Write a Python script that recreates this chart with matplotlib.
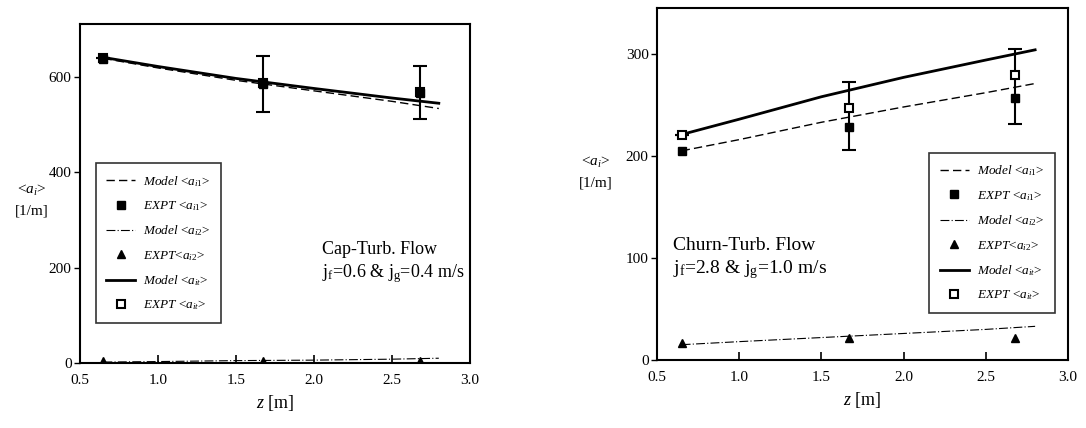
import numpy as np
import matplotlib
matplotlib.use("Agg")
import matplotlib.pyplot as plt
from matplotlib.lines import Line2D

plt.rcParams['font.family'] = ['Liberation Serif', 'DejaVu Serif']
plt.rcParams['mathtext.fontset'] = 'custom'
plt.rcParams['mathtext.rm'] = 'Liberation Serif'
plt.rcParams['mathtext.it'] = 'Liberation Serif:italic'

# measurement ports and model axis
z_expt = [0.65, 1.67, 2.68]
z_model = [0.65, 1.0, 1.5, 2.0, 2.5, 2.8]

# Cap-turbulent flow (jf=0.6, jg=0.4)
cap_model_ai1 = [638, 618, 592, 570, 548, 533]
cap_model_ai2 = [2, 3, 5, 6, 8, 10]
cap_model_ai = [640, 621, 596, 575, 555, 544]
cap_expt_ai1 = [637, 585, 565]
cap_expt_ai2 = [5, 5, 4]
cap_expt_ai = [638, 586, 567]
cap_err_lo = [0, 60, 57]
cap_err_hi = [0, 58, 55]

# Churn-turbulent flow (jf=2.8, jg=1.0)
churn_model_ai1 = [205, 216, 233, 248, 262, 271]
churn_model_ai2 = [15, 18, 22, 26, 30, 33]
churn_model_ai = [221, 236, 258, 277, 294, 304]
churn_expt_ai1 = [205, 228, 257]
churn_expt_ai2 = [17, 22, 22]
churn_expt_ai = [221, 247, 279]
churn_err_lo = [0, 41, 48]
churn_err_hi = [0, 25, 26]

xticks = [0.5, 1.0, 1.5, 2.0, 2.5, 3.0]
xticklabels = ['0.5', '1.0', '1.5', '2.0', '2.5', '3.0']

fig = plt.figure(figsize=(10.86, 4.28), dpi=100)
ax1 = fig.add_axes([80/1086, 65/428, 390/1086, 339/428])
ax2 = fig.add_axes([657/1086, 68/428, 411/1086, 352/428])


def draw(ax, m1, m2, m, e1, e2, e, elo, ehi, ylim, yticks, leg_box, txt, txt_xy, txt_size):
    h1, = ax.plot(z_model, m1, '--', color='k', lw=1.0, dashes=(6, 3))
    h2, = ax.plot(z_expt, e1, 's', color='k', ms=6, zorder=4)
    h3, = ax.plot(z_model, m2, '-.', color='k', lw=0.8, dashes=(8, 2, 1, 2))
    h4, = ax.plot(z_expt, e2, '^', color='k', ms=6, zorder=4)
    h5, = ax.plot(z_model, m, '-', color='k', lw=2.0)
    ax.errorbar(z_expt, e, yerr=[elo, ehi], fmt='s', mfc='white', mec='k', mew=1.5, ms=6,
                ecolor='k', elinewidth=1.5, capsize=5, capthick=2, zorder=3)
    h6 = Line2D([], [], ls='none', marker='s', mfc='white', mec='k', mew=1.5, ms=6)
    labels = [r'$\mathit{Model}$ <$\mathit{a}_{i1}$>', r'$\mathit{EXPT}$ <$\mathit{a}_{i1}$>',
              r'$\mathit{Model}$ <$\mathit{a}_{i2}$>', r'$\mathit{EXPT}$<$\mathit{a}_{i2}$>',
              r'$\mathit{Model}$ <$\mathit{a}_{it}$>', r'$\mathit{EXPT}$ <$\mathit{a}_{it}$>']
    ax.set_xlim(0.5, 3.0)
    ax.set_ylim(*ylim)
    ax.set_xticks(xticks)
    ax.set_xticklabels(xticklabels, fontsize=11)
    ax.set_yticks(yticks)
    ax.set_yticklabels([str(v) for v in yticks], fontsize=11)
    ax.tick_params(axis='x', direction='in', length=6, width=1.2, pad=8)
    ax.tick_params(axis='y', direction='out', length=4, width=1.0, pad=2)
    for s in ax.spines.values():
        s.set_linewidth(1.5)
    ax.set_xlabel(r'$\mathit{z}$ [m]', fontsize=13, labelpad=4)
    leg = ax.legend([h1, h2, h3, h4, h5, h6], labels,
                    loc='lower left', bbox_to_anchor=leg_box, fontsize=9.5,
                    frameon=True, fancybox=False, edgecolor='k',
                    handlelength=2.2, handletextpad=0.6, labelspacing=0.8,
                    borderpad=0.8, borderaxespad=0)
    leg.get_frame().set_linewidth(1.2)
    ax.text(txt_xy[0], txt_xy[1], txt, transform=ax.transAxes, fontsize=txt_size,
            va='top', ha='left', linespacing=1.3)


draw(ax1, cap_model_ai1, cap_model_ai2, cap_model_ai, cap_expt_ai1, cap_expt_ai2,
     cap_expt_ai, cap_err_lo, cap_err_hi, (0, 710), [0, 200, 400, 600],
     (0.04, 0.118), 'Cap-Turb. Flow\nj$_\\mathrm{f}$=0.6 & j$_\\mathrm{g}$=0.4 m/s', (0.62, 0.36), 13)
draw(ax2, churn_model_ai1, churn_model_ai2, churn_model_ai, churn_expt_ai1, churn_expt_ai2,
     churn_expt_ai, churn_err_lo, churn_err_hi, (0, 345), [0, 100, 200, 300],
     (0.662, 0.134), 'Churn-Turb. Flow\nj$_\\mathrm{f}$=2.8 & j$_\\mathrm{g}$=1.0 m/s', (0.04, 0.35), 14)

fig.text(32/1086, 1 - 200/428, r'<$\mathit{a}_i$>' + '\n[1/m]', fontsize=11, ha='center', va='center', linespacing=1.7)
fig.text(596/1086, 1 - 172/428, r'<$\mathit{a}_i$>' + '\n[1/m]', fontsize=11, ha='center', va='center', linespacing=1.7)

fig.savefig('out.png', dpi=100)
